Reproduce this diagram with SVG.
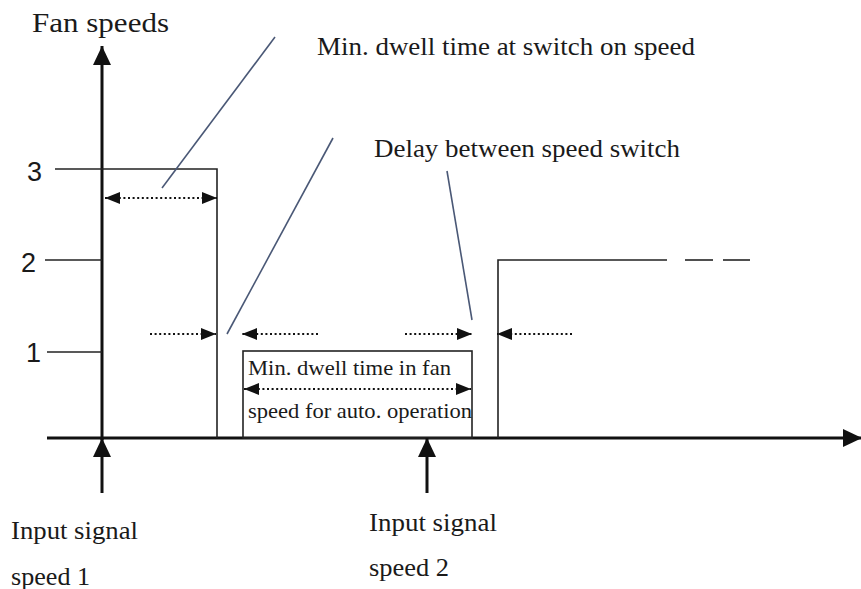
<svg xmlns="http://www.w3.org/2000/svg" width="861" height="589" viewBox="0 0 861 589">
<style>
.bg{fill:#fff}
.axis{stroke:#111;stroke-width:3;fill:none}
.thin{stroke:#222;stroke-width:1.6;fill:none}
.lead{stroke:#4a5876;stroke-width:1.6;fill:none}
.dot{stroke:#111;stroke-width:2;stroke-dasharray:2 2.6;fill:none}
.t{font-family:"Liberation Serif","Times New Roman",serif;fill:#1a1a1a}
.n{font-family:"Liberation Sans",Arial,sans-serif;fill:#1a1a1a;font-size:27px}
</style>
<defs>
<marker id="ah" viewBox="0 0 15 12" refX="15" refY="6" markerUnits="userSpaceOnUse" markerWidth="15" markerHeight="12" orient="auto-start-reverse">
<path d="M0,0 L15,6 L0,12 Z" fill="#111"/>
</marker>
<marker id="big" viewBox="0 0 19 18" refX="19" refY="9" markerUnits="userSpaceOnUse" markerWidth="19" markerHeight="18" orient="auto">
<path d="M0,0 L19,9 L0,18 Z" fill="#111"/>
</marker>
</defs>
<rect class="bg" width="861" height="589"/>

<g id="axes">
<line class="axis" x1="102" y1="440" x2="102" y2="46" marker-end="url(#big)"/>
<line class="axis" x1="47" y1="438" x2="862" y2="438" marker-end="url(#big)"/>
<text class="t" x="32" y="32" font-size="28" textLength="137" lengthAdjust="spacingAndGlyphs">Fan speeds</text>
</g>

<g id="ticks">
<line class="thin" x1="55" y1="169" x2="102" y2="169"/>
<line class="thin" x1="45" y1="260" x2="102" y2="260"/>
<line class="thin" x1="47" y1="352" x2="102" y2="352"/>
<text class="n" x="27" y="181">3</text>
<text class="n" x="21" y="272">2</text>
<text class="n" x="26" y="362">1</text>
</g>

<g id="speed3-step">
<polyline class="thin" points="102,169 217,169 217,438"/>
</g>

<g id="speed2-step">
<polyline class="thin" points="498,438 498,260 667,260"/>
<line class="thin" x1="685" y1="260" x2="713" y2="260"/>
<line class="thin" x1="723" y1="260" x2="750" y2="260"/>
</g>

<g id="auto-box">
<rect class="thin" x="243" y="351" width="229" height="87"/>
<text class="t" x="248" y="375" font-size="21" textLength="203" lengthAdjust="spacingAndGlyphs">Min. dwell time in fan</text>
<text class="t" x="248" y="418" font-size="21" textLength="224" lengthAdjust="spacingAndGlyphs">speed for auto. operation</text>
</g>

<g id="label-switch-on">
<text class="t" x="317" y="55" font-size="25" textLength="378" lengthAdjust="spacingAndGlyphs">Min. dwell time at switch on speed</text>
</g>

<g id="label-delay">
<text class="t" x="374" y="157" font-size="25" textLength="306" lengthAdjust="spacingAndGlyphs">Delay between speed switch</text>
</g>

<g id="input1">
<text class="t" x="11" y="539" font-size="25" textLength="127" lengthAdjust="spacingAndGlyphs">Input signal</text>
<text class="t" x="11" y="585" font-size="25" textLength="79" lengthAdjust="spacingAndGlyphs">speed 1</text>
</g>

<g id="input2">
<text class="t" x="369" y="531" font-size="25" textLength="128" lengthAdjust="spacingAndGlyphs">Input signal</text>
<text class="t" x="369" y="576" font-size="25" textLength="80" lengthAdjust="spacingAndGlyphs">speed 2</text>
</g>

<g id="connectors">
<line class="axis" x1="102" y1="493" x2="102" y2="438" marker-end="url(#big)"/>
<line class="axis" x1="427" y1="493" x2="427" y2="438" marker-end="url(#big)"/>
<line class="lead" x1="275" y1="37" x2="162" y2="188"/>
<line class="lead" x1="333" y1="138" x2="227" y2="334"/>
<line class="lead" x1="447" y1="171" x2="472" y2="320"/>
<line class="dot" x1="105" y1="198" x2="217" y2="198" marker-start="url(#ah)" marker-end="url(#ah)"/>
<line class="dot" x1="150" y1="334" x2="216" y2="334" marker-end="url(#ah)"/>
<line class="dot" x1="318" y1="334" x2="242" y2="334" marker-end="url(#ah)"/>
<line class="dot" x1="405" y1="334" x2="472" y2="334" marker-end="url(#ah)"/>
<line class="dot" x1="572" y1="334" x2="497" y2="334" marker-end="url(#ah)"/>
<line class="dot" x1="244" y1="389" x2="471" y2="389" marker-start="url(#ah)" marker-end="url(#ah)"/>
</g>
</svg>
